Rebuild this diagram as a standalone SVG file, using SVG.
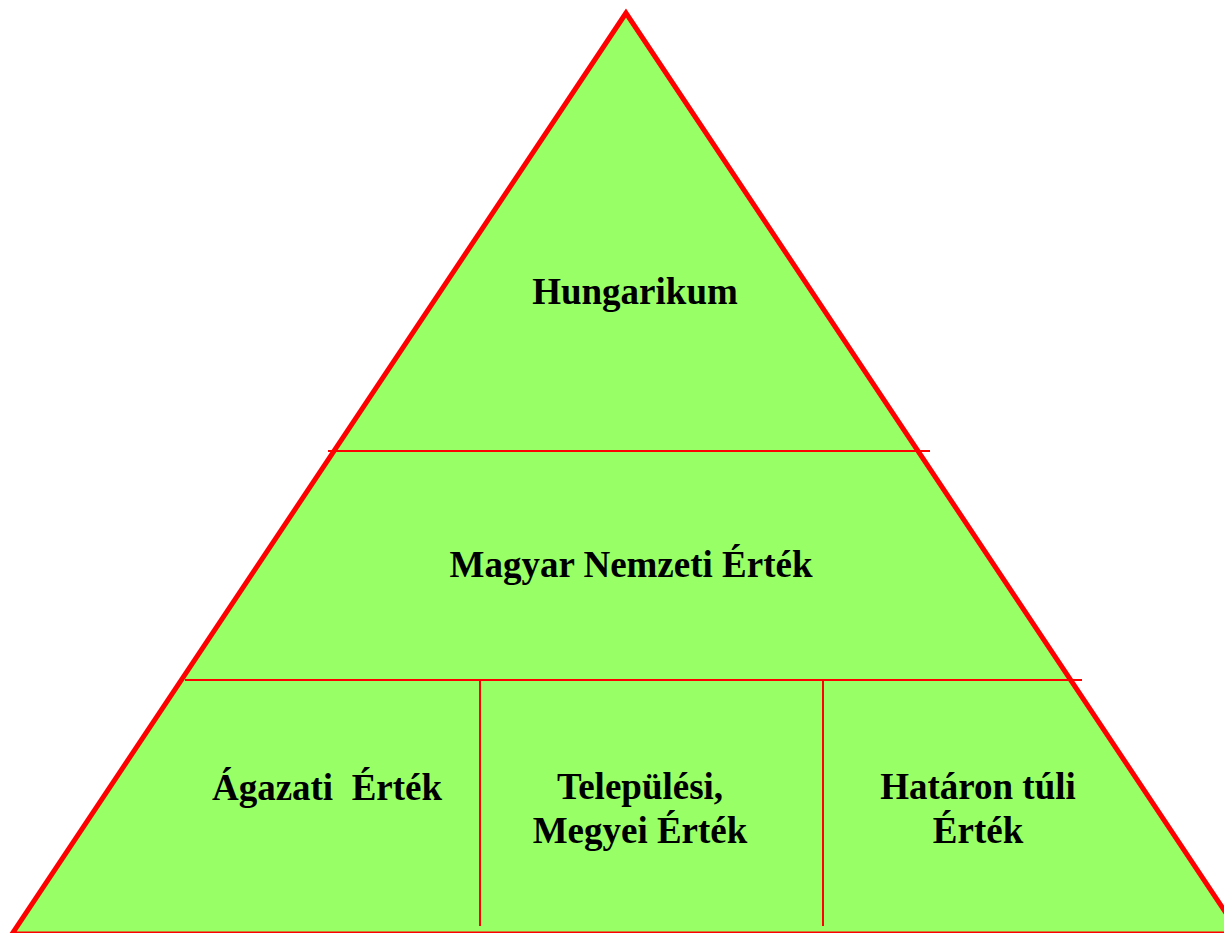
<svg xmlns="http://www.w3.org/2000/svg" width="1224" height="933" viewBox="0 0 1224 933">
<style>
.lbl{font-family:"Liberation Serif","Times New Roman",serif;font-weight:bold;font-size:37px;fill:#000;text-anchor:middle;white-space:pre}
.div{stroke:#ff0000;stroke-width:2;fill:none}
</style>
<rect x="0" y="0" width="1224" height="933" fill="#ffffff"/>
<g id="pyramid">
<polygon points="626,13 12,934 1240,934" fill="#99ff66" stroke="#ff0000" stroke-width="5" stroke-linejoin="miter"/>
</g>
<g id="connectors">
<line class="div" x1="328" y1="451" x2="930" y2="451"/>
<line class="div" x1="185" y1="680" x2="1082" y2="680"/>
<line class="div" x1="480" y1="680" x2="480" y2="926"/>
<line class="div" x1="823" y1="680" x2="823" y2="926"/>
</g>
<g id="hungarikum"><text class="lbl" x="635" y="304">Hungarikum</text></g>
<g id="nemzeti"><text class="lbl" x="631" y="577">Magyar Nemzeti Érték</text></g>
<g id="agazati"><text class="lbl" x="327" y="800">Ágazati  Érték</text></g>
<g id="telepulesi"><text class="lbl" x="640" y="799">Települési,</text><text class="lbl" x="640" y="843">Megyei Érték</text></g>
<g id="hataron"><text class="lbl" x="978" y="799">Határon túli</text><text class="lbl" x="978" y="843">Érték</text></g>
</svg>
